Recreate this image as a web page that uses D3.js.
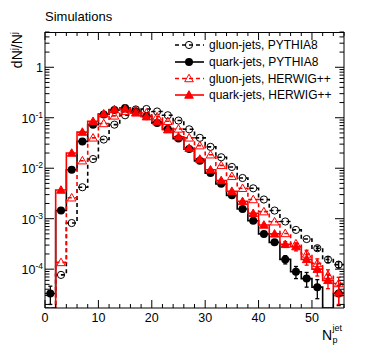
<!DOCTYPE html>
<html>
<head>
<meta charset="utf-8">
<script src="https://cdn.jsdelivr.net/npm/d3@7"></script>
<style>
  html, body { margin: 0; padding: 0; background: #fff; }
  svg { display: block; font-family: "Liberation Sans", Arial, Helvetica, sans-serif; }
</style>
</head>
<body>
<svg id="chart" width="374" height="355"></svg>
<script>
// ---------------- data ----------------
const binCenters = [1,3,5,7,9,11,13,15,17,19,21,23,25,27,29,31,33,35,37,39,41,43,45,47,49,51,53,55];
const binWidth = 2;

const gluonPythia = [0, 7.7e-5, 8.2e-4, 4.2e-3, 0.0152, 0.037, 0.073, 0.112, 0.146, 0.149, 0.133, 0.112, 0.088, 0.059,
  0.040, 0.0265, 0.0165, 0.0106, 0.0064, 0.0040, 0.0024, 1.45e-3, 8.8e-4, 6.0e-4, 3.95e-4, 2.6e-4, 1.55e-4, 1.23e-4];
const gluonPythiaErr = [0,0,0,0,0,0,0,0,0,0,0,0,0,0,0,0,0,0,0,0,0,0,0,0,0,2.5e-5,2.1e-5,1.7e-5];

const quarkPythia = [3.3e-5, 1.45e-3, 9.3e-3, 0.034, 0.073, 0.116, 0.143, 0.156, 0.135, 0.107, 0.079, 0.060, 0.0386, 0.024,
  0.014, 0.008, 0.0049, 0.0029, 0.00156, 9.1e-4, 5.0e-4, 3.4e-4, 1.56e-4, 8.9e-5, 6.5e-5, 4.4e-5, 0, 3.3e-5];
const quarkPythiaErr = [1.3e-5,0,0,0,0,0,0,0,0,0,0,0,0,0,0,0,0,0,0,0,0,3e-5,2.9e-5,2.4e-5,2.1e-5,1.8e-5,0,1.4e-5];

const gluonHerwig = [0, 1.36e-4, 2.6e-3, 0.0141, 0.040, 0.077, 0.109, 0.135, 0.14, 0.125, 0.105, 0.085, 0.060, 0.040,
  0.028, 0.0185, 0.0114, 0.0069, 0.0040, 0.0024, 1.38e-3, 8.7e-4, 5.1e-4, 3.2e-4, 2.0e-4, 1.3e-4, 7.6e-5, 5.2e-5];
const gluonHerwigErr = [0,0,0,0,0,0,0,0,0,0,0,0,0,0,0,0,0,0,0,0,0,0,0,0,3.7e-5,3e-5,2.1e-5,1.7e-5];

const quarkHerwig = [0, 3.7e-3, 0.020, 0.052, 0.085, 0.12, 0.146, 0.15, 0.125, 0.105, 0.084, 0.058, 0.042, 0.025,
  0.0152, 0.0093, 0.0057, 0.0035, 0.0022, 1.28e-3, 7.5e-4, 5.0e-4, 3.1e-4, 2.8e-4, 1.56e-4, 1.0e-4, 6.0e-5, 3.4e-5];
const quarkHerwigErr = [0,0,0,0,0,0,0,0,0,0,0,0,0,0,0,0,0,0,0,0,0,0,4e-5,5e-5,3.6e-5,2.7e-5,1.9e-5,1.4e-5];

const seriesNames = ["gluon-jets, PYTHIA8", "quark-jets, PYTHIA8", "gluon-jets, HERWIG++", "quark-jets, HERWIG++"];

const xTickValues = [0, 10, 20, 30, 40, 50];
const xTickLabels = ["0", "10", "20", "30", "40", "50"];
const yTickValues = [1e-4, 1e-3, 1e-2, 1e-1, 1];
const yTickBase = ["10", "10", "10", "10", "1"];
const yTickExp = ["-4", "-3", "-2", "-1", ""];

const titleText = "Simulations";

// ---------------- layout ----------------
const svg = d3.select("#chart");
const L = 45, R = 344, T = 32, B = 308;
const x = d3.scaleLinear().domain([0, 56]).range([L, R]);
const y = d3.scaleLog().domain([1.7e-5, 5]).range([B, T]);
const yMin = y.domain()[0];
const yc = v => y(Math.max(v, yMin));

const styles = [
  { color: "#000", dash: "4,3", marker: "circleOpen" },
  { color: "#000", dash: null, marker: "circleFilled" },
  { color: "#ff0000", dash: "4,3", marker: "triOpen" },
  { color: "#ff0000", dash: null, marker: "triFilled" }
];
const datasets = [
  { values: gluonPythia, errs: gluonPythiaErr },
  { values: quarkPythia, errs: quarkPythiaErr },
  { values: gluonHerwig, errs: gluonHerwigErr },
  { values: quarkHerwig, errs: quarkHerwigErr }
];

const defs = svg.append("defs");
defs.append("clipPath").attr("id", "plotclip").append("rect")
  .attr("x", L).attr("y", T).attr("width", R - L).attr("height", B - T);

function drawMarker(g, type, cx, cy, color) {
  if (type === "circleOpen") {
    g.append("circle").attr("cx", cx).attr("cy", cy).attr("r", 3.6)
      .attr("fill", "none").attr("stroke", color).attr("stroke-width", 1);
  } else if (type === "circleFilled") {
    g.append("circle").attr("cx", cx).attr("cy", cy).attr("r", 4)
      .attr("fill", color);
  } else {
    const s = 4.3;
    const pts = [[cx, cy - s], [cx - s, cy + s * 0.75], [cx + s, cy + s * 0.75]];
    g.append("path").attr("d", "M" + pts.map(p => p.join(",")).join("L") + "Z")
      .attr("fill", type === "triFilled" ? color : "none")
      .attr("stroke", color).attr("stroke-width", 1);
  }
}

// ---------------- histograms ----------------
const plot = svg.append("g").attr("clip-path", "url(#plotclip)");
datasets.forEach((ds, si) => {
  const st = styles[si];
  let d = "";
  ds.values.forEach((v, i) => {
    const x0 = x(binCenters[i] - binWidth / 2), x1 = x(binCenters[i] + binWidth / 2);
    const yy = yc(v);
    d += (i === 0 ? "M" : "L") + x0 + "," + yy + "L" + x1 + "," + yy;
  });
  plot.append("path").attr("d", d).attr("fill", "none")
    .attr("stroke", st.color).attr("stroke-width", 1.6)
    .attr("stroke-dasharray", st.dash);
});
datasets.forEach((ds, si) => {
  const st = styles[si];
  const g = plot.append("g");
  ds.values.forEach((v, i) => {
    if (v <= 0) return;
    const cx = x(binCenters[i]), cy = y(v);
    const e = ds.errs[i];
    if (e > 0) {
      const yt = y(v + e), yb = yc(v - e);
      g.append("line").attr("x1", cx).attr("x2", cx).attr("y1", yt).attr("y2", yb)
        .attr("stroke", st.color).attr("stroke-width", 1.3);
      [yt, yb].forEach(yy => g.append("line").attr("x1", cx - 2).attr("x2", cx + 2)
        .attr("y1", yy).attr("y2", yy).attr("stroke", st.color).attr("stroke-width", 1.3));
    }
    drawMarker(g, st.marker, cx, cy, st.color);
  });
});

// ---------------- frame & ticks ----------------
const axisG = svg.append("g").attr("stroke", "#000").attr("stroke-width", 1).attr("fill", "none");
axisG.append("line").attr("x1", L).attr("x2", L).attr("y1", T).attr("y2", B);
axisG.append("line").attr("x1", R).attr("x2", R).attr("y1", T).attr("y2", B);
axisG.append("line").attr("x1", L).attr("x2", R).attr("y1", T + 0.5).attr("y2", T + 0.5);
axisG.append("line").attr("x1", L).attr("x2", R).attr("y1", B).attr("y2", B);

// x ticks
const xMinor = d3.range(0, 57, 2);
xMinor.forEach(v => {
  const major = v % 10 === 0;
  const len = major ? 8 : 4;
  const px = x(v);
  axisG.append("line").attr("x1", px).attr("x2", px).attr("y1", B).attr("y2", B - len);
  axisG.append("line").attr("x1", px).attr("x2", px).attr("y1", T).attr("y2", T + len);
});
// y ticks
const yMinor = [];
for (let e = -5; e <= 0; e++) for (let m = 1; m <= 9; m++) {
  const v = m * Math.pow(10, e);
  if (v >= y.domain()[0] && v <= y.domain()[1]) yMinor.push({ v, major: m === 1 });
}
yMinor.forEach(t => {
  const len = t.major ? 9 : 4.5;
  const py = y(t.v);
  axisG.append("line").attr("x1", L).attr("x2", L + len).attr("y1", py).attr("y2", py);
  axisG.append("line").attr("x1", R).attr("x2", R - len).attr("y1", py).attr("y2", py);
});

// tick labels
const labG = svg.append("g").attr("fill", "#000");
xTickValues.forEach((v, i) => {
  labG.append("text").attr("x", x(v)).attr("y", 322).attr("text-anchor", "middle")
    .attr("font-size", 12.5).text(xTickLabels[i]);
});
yTickValues.forEach((v, i) => {
  const t = labG.append("text").attr("x", 43).attr("y", y(v) + 5).attr("text-anchor", "end")
    .attr("font-size", 12.5);
  t.append("tspan").text(yTickBase[i]);
  if (yTickExp[i]) t.append("tspan").attr("dy", -5).attr("font-size", 8.5).text(yTickExp[i]);
});

// title and axis labels
labG.append("text").attr("x", 45).attr("y", 21).attr("font-size", 13).text(titleText);
const yl = labG.append("text").attr("transform", "translate(22," + T + ") rotate(-90)")
  .attr("text-anchor", "end").attr("font-size", 14);
yl.append("tspan").text("dN");
yl.append("tspan").attr("dy", -5.5).attr("font-size", 9.5).text("j");
yl.append("tspan").attr("dy", 5.5).text("/N");
yl.append("tspan").attr("dy", -5.5).attr("font-size", 9.5).text("j");

labG.append("text").attr("x", 332).attr("y", 340).attr("text-anchor", "end").attr("font-size", 14).text("N");
labG.append("text").attr("x", 332.5).attr("y", 343).attr("font-size", 9).text("p");
labG.append("text").attr("x", 332.5).attr("y", 331).attr("font-size", 9).text("jet");

// ---------------- legend ----------------
const legRows = [45, 62, 78.5, 95];
const leg = svg.append("g");
seriesNames.forEach((name, i) => {
  const st = styles[i];
  const ry = legRows[i];
  leg.append("line").attr("x1", 175).attr("x2", 204).attr("y1", ry).attr("y2", ry)
    .attr("stroke", st.color).attr("stroke-width", 1.6).attr("stroke-dasharray", st.dash);
  drawMarker(leg, st.marker, 189, ry, st.color);
  leg.append("text").attr("x", 209).attr("y", ry + 4.3).attr("font-size", 12).attr("fill", "#000").text(name);
});
</script>
</body>
</html>
